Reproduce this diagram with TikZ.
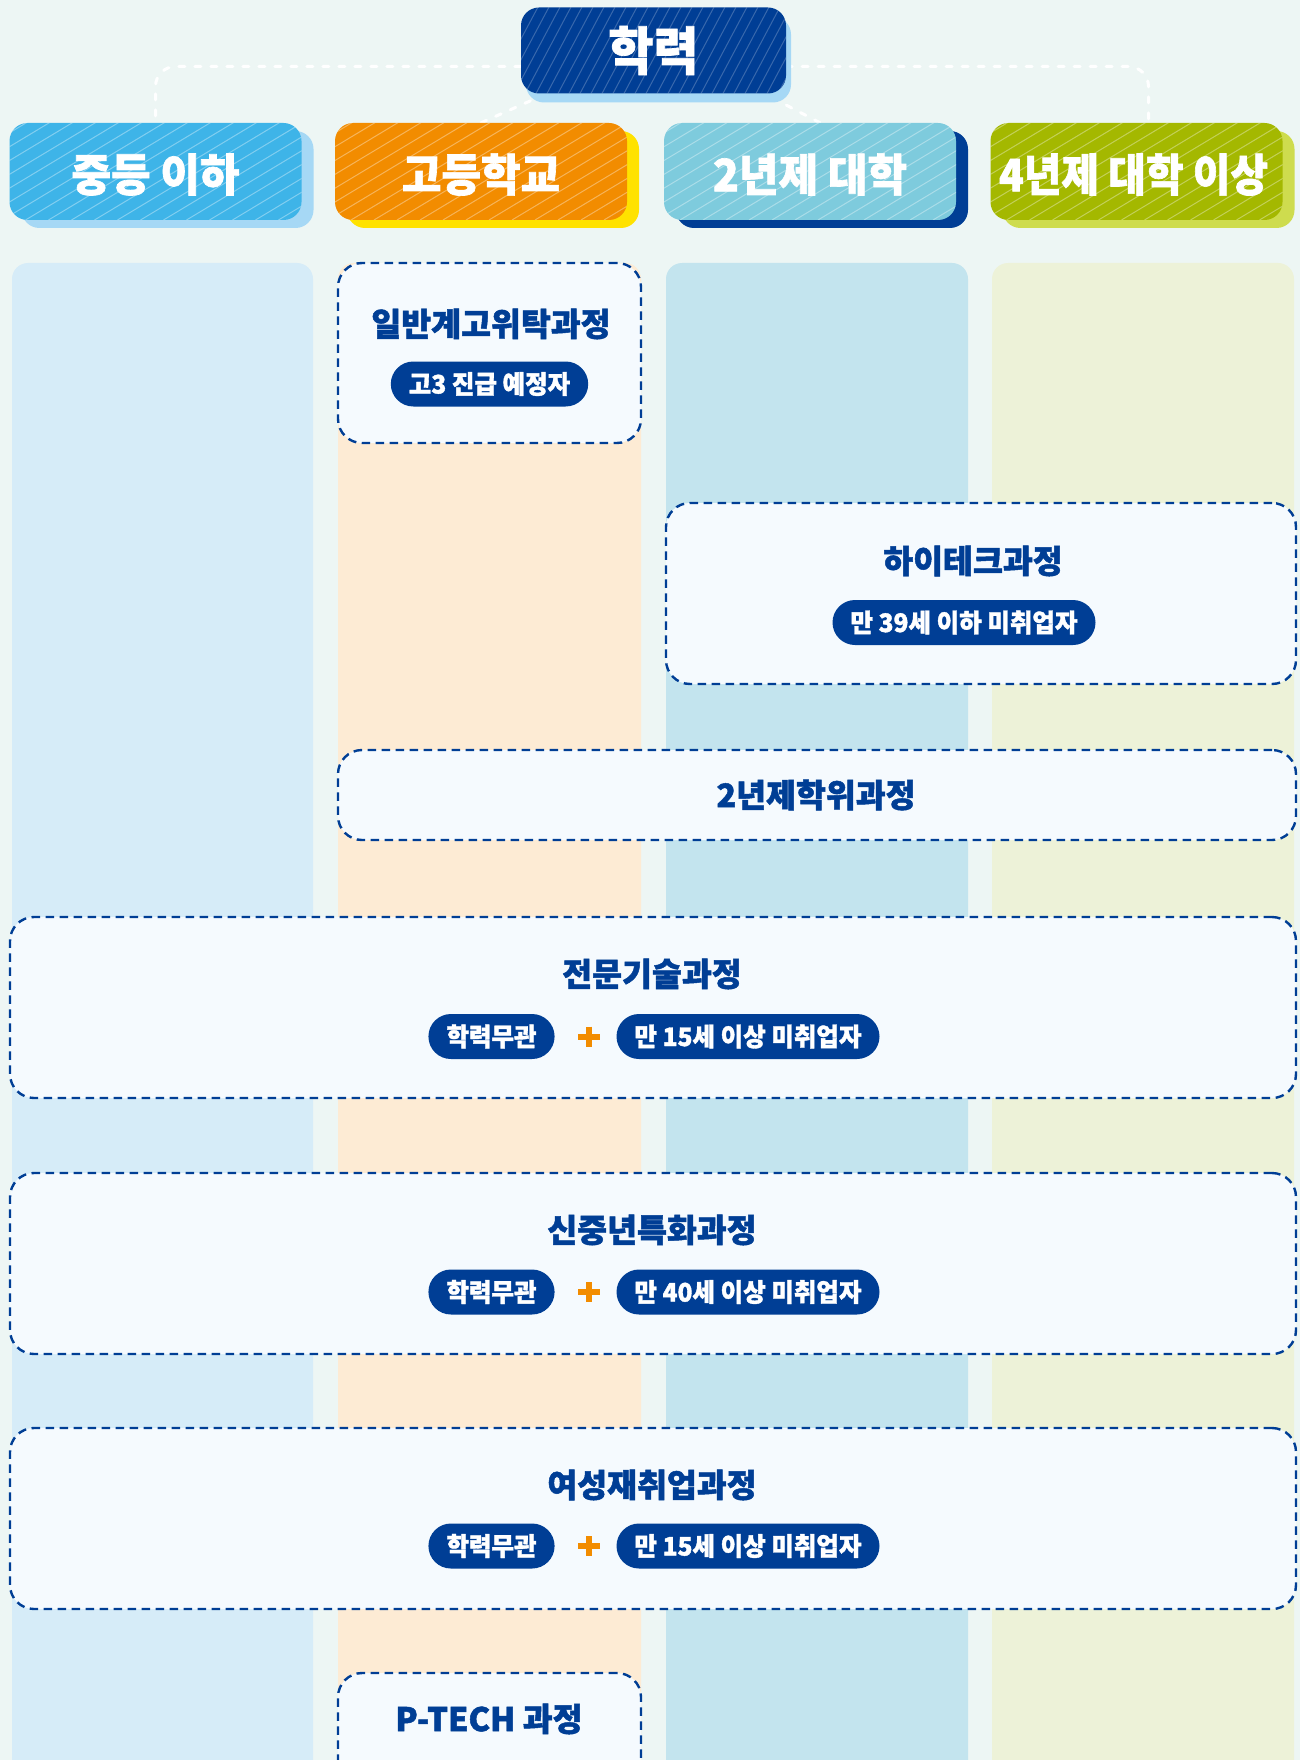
\documentclass[tikz,border=0pt]{standalone}
\usepackage{fontspec}
\usepackage{graphicx}
\newfontfamily\krb{Noto Sans CJK KR}[UprightFont={* Black}, RawFeature={embolden=1.5}]
\usetikzlibrary{shadows,calc}
\pgfdeclarelayer{background}
\pgfsetlayers{background,main}
\definecolor{bg}{HTML}{EDF6F4}
\definecolor{navy}{HTML}{003E95}
\definecolor{cA}{HTML}{3EB4E8}
\definecolor{cAs}{HTML}{A6D8F5}
\definecolor{cB}{HTML}{F28C00}
\definecolor{cBs}{HTML}{FFE200}
\definecolor{cC}{HTML}{7ECBDD}
\definecolor{cD}{HTML}{A4B800}
\definecolor{cDs}{HTML}{CEDC4E}
\definecolor{col1}{HTML}{D6ECF8}
\definecolor{col2}{HTML}{FDEBD4}
\definecolor{col3}{HTML}{C3E4EE}
\definecolor{col4}{HTML}{EDF2D8}
\definecolor{boxfill}{HTML}{F5FAFE}
\definecolor{plusc}{HTML}{F28C00}
\newcommand{\vsc}[2][1.04]{\scalebox{1}[#1]{#2}}
\begin{document}
\begin{tikzpicture}[x=1pt,y=-1pt,
  stripes/.style n args={3}{path picture={\foreach \k in {0,...,70}{\draw[white, opacity=#3, line width=1pt] ([xshift={(\k*#2-260)*1pt}]path picture bounding box.south west) -- ++(#1:330pt);}}},
  hdr/.style={rounded corners=18pt, minimum width=292pt, minimum height=97pt, inner sep=0pt, text=white, font=\krb\fontsize{43}{43}\selectfont, stripes={31}{23}{0.35}},
  htext/.style={text=white, font=\krb\fontsize{43}{43}\selectfont, inner sep=0pt},
  shad/.style={drop shadow={shadow xshift=12pt, shadow yshift=-8pt, fill=#1, opacity=1, draw=none}},
  conn/.style={draw=white, line width=3pt, dash pattern=on 6pt off 10pt, line cap=round},
  dbox/.style={draw=navy, fill=boxfill, dash pattern=on 8.5pt off 5.5pt, line width=2.4pt, rounded corners=24pt, inner sep=0pt},
  ttl/.style={text=navy, font=\krb\fontsize{32.5}{32.5}\selectfont, inner sep=0pt},
  pill/.style={fill=navy, text=white, rounded corners=22.5pt, minimum height=45pt, inner xsep=18pt, inner ysep=0pt, font=\krb\fontsize{24.5}{24.5}\selectfont},
  plusline/.style={draw=plusc, line width=6pt}
]
\useasboundingbox (0,0) rectangle (1300,1760);
\clip (0,0) rectangle (1300,1760);
\begin{pgfonlayer}{background}
\fill[bg] (0,0) rectangle (1300,1760);
\end{pgfonlayer}

% columns
\fill[col1, rounded corners=16pt] (12,263) rectangle (313,1820);
\fill[col2, rounded corners=16pt] (338,263) rectangle (641,1820);
\fill[col3, rounded corners=16pt] (666,263) rectangle (968,1820);
\fill[col4, rounded corners=16pt] (992,263) rectangle (1294,1820);

% top node
\node[rounded corners=18pt, minimum width=265pt, minimum height=86pt, inner sep=0pt, text=white, fill=navy,
      font=\krb\fontsize{49}{49}\selectfont, stripes={62}{11}{0.22},
      drop shadow={shadow xshift=5pt, shadow yshift=-9pt, fill=cAs, opacity=1, draw=none}]
      (top) at (653.5,50.5) {\vsc[1.06]{학력}};

% header boxes
\node[hdr, fill=cA, shad=cAs] (h1) at (155.5,171.5) {};
\node[hdr, fill=cB, shad=cBs] (h2) at (481,171.5) {};
\node[hdr, fill=cC, shad=navy] (h3) at (810,171.5) {};
\node[hdr, fill=cD, shad=cDs] (h4) at (1136.5,171.5) {};
\node[htext] (ht1) at ([yshift=-3pt]h1.center) {\vsc{중등 이하}};
\node[htext] (ht2) at ([yshift=-3pt]h2.center) {\vsc{고등학교}};
\node[htext] (ht3) at ([yshift=-3pt]h3.center) {\vsc{2년제 대학}};
\node[htext] (ht4) at ([yshift=-3pt,xshift=-3pt]h4.center) {\scalebox{0.95}[1.04]{4년제 대학 이상}};

% connectors
\begin{pgfonlayer}{background}
\draw[conn, rounded corners=20pt] ([yshift=-16pt]top.west) -| (h1.north);
\draw[conn, rounded corners=20pt] ([yshift=-16pt]top.east) -| ([xshift=12pt]h4.north);
\draw[conn] (h2.north) -- ([xshift=-107pt]top.south);
\draw[conn] ([xshift=10pt]h3.north) -- ([xshift=111pt]top.south);
\end{pgfonlayer}

% dashed course boxes
\node[dbox, minimum width=303pt, minimum height=180pt] (b1) at (489.5,353) {};
\node[dbox, minimum width=630pt, minimum height=181pt] (b2) at (981,593.5) {};
\node[dbox, minimum width=958pt, minimum height=90pt] (b3) at (817,795) {};
\node[dbox, minimum width=1286pt, minimum height=181pt] (b4) at (653,1007.5) {};
\node[dbox, minimum width=1286pt, minimum height=181pt] (b5) at (653,1263.5) {};
\node[dbox, minimum width=1286pt, minimum height=181pt] (b6) at (653,1518.5) {};
\node[dbox, minimum width=303pt, minimum height=180pt] (b7) at (489.5,1763) {};

% titles
\node[ttl] (t1) at (491,324) {일반계고위탁과정};
\node[ttl] (t2) at (973,561) {하이테크과정};
\node[ttl] (t3) at (816,795) {2년제학위과정};
\node[ttl] (t4) at (652,974) {전문기술과정};
\node[ttl] (t5) at (652,1230) {신중년특화과정};
\node[ttl] (t6) at (652,1485) {여성재취업과정};
\node[ttl] (t7) at (489,1719) {P-TECH 과정};

% pills
\node[pill] (p1) at (489.5,384) {\vsc{고3 진급 예정자}};
\node[pill] (p2) at (964,622.5) {\vsc{만 39세 이하 미취업자}};

\node[pill] (p4a) at (491.5,1036.5) {\vsc{학력무관}};
\node[pill] (p4b) at (748,1036.5) {\vsc{만 15세 이상 미취업자}};
\node[pill] (p5a) at (491.5,1292) {\vsc{학력무관}};
\node[pill] (p5b) at (748,1292) {\vsc{만 40세 이상 미취업자}};
\node[pill] (p6a) at (491.5,1546) {\vsc{학력무관}};
\node[pill] (p6b) at (748,1546) {\vsc{만 15세 이상 미취업자}};

% plus signs
\foreach \yy in {1036.5,1292,1546}{
  \draw[plusline] (578,\yy) -- (600,\yy);
  \draw[plusline] (589,\yy-10) -- (589,\yy+10);
}
\end{tikzpicture}
\end{document}
